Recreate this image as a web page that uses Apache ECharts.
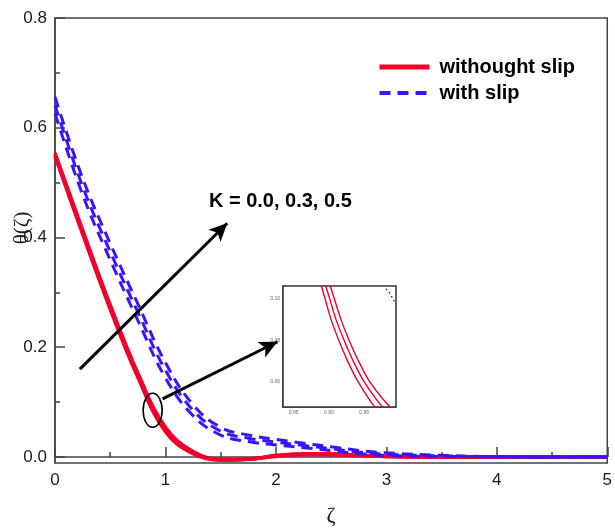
<!DOCTYPE html>
<html>
<head>
<meta charset="utf-8">
<script src="https://cdn.jsdelivr.net/npm/echarts@6/dist/echarts.min.js"></script>
<style>
html, body { margin: 0; padding: 0; background: #fff; }
#chart { width: 615px; height: 532px; }
</style>
</head>
<body>
<div id="chart"></div>
<script>
// ===== data =====
var zeta = [0, 0.25, 0.5, 0.75, 1, 1.25, 1.5, 1.75, 2, 2.25, 2.5, 2.75, 3, 3.5, 4, 4.5, 5];

// without slip, K = 0.0 / 0.3 / 0.5 (nearly on top of each other)
var noSlipK0 = [0.554, 0.414, 0.277, 0.153, 0.054, 0.010, -0.004, -0.004, 0.003, 0.006, 0.006, 0.0035, 0.0012, 0, 0, 0, 0];
var noSlipK3 = [0.551, 0.410, 0.273, 0.149, 0.050, 0.008, -0.005, -0.004, 0.002, 0.005, 0.005, 0.003, 0.001, 0, 0, 0, 0];
var noSlipK5 = [0.548, 0.406, 0.269, 0.145, 0.046, 0.006, -0.006, -0.004, 0.001, 0.004, 0.004, 0.0025, 0.0008, 0, 0, 0, 0];

// with slip, K = 0.0 / 0.3 / 0.5
var slipK0 = [0.656, 0.508, 0.389, 0.279, 0.172, 0.095, 0.054, 0.040, 0.032, 0.025, 0.0185, 0.012, 0.0075, 0.003, 0.0005, 0, 0];
var slipK3 = [0.641, 0.493, 0.374, 0.264, 0.158, 0.085, 0.047, 0.034, 0.027, 0.021, 0.015, 0.009, 0.005, 0.002, 0.0005, 0, 0];
var slipK5 = [0.626, 0.478, 0.359, 0.249, 0.144, 0.075, 0.040, 0.028, 0.022, 0.017, 0.0115, 0.006, 0.0025, 0.001, 0.0005, 0, 0];

var yMajor = [0, 0.2, 0.4, 0.6, 0.8];
var yMinor = [0.1, 0.3, 0.5, 0.7];

// inset (zoom of the circled part)
var insetY = [0.11, 0.10, 0.09, 0.08, 0.07, 0.06, 0.05, 0.045];
var insetXK0 = [0.886, 0.8945, 0.903, 0.914, 0.9265, 0.9415, 0.9605, 0.973];
var insetXK3 = [0.892, 0.901, 0.910, 0.9215, 0.9345, 0.950, 0.971, 0.985];
var insetXK5 = [0.898, 0.9075, 0.917, 0.9285, 0.942, 0.958, 0.981, 0.997];
var insetSlipX = [0.981, 0.987, 0.990, 0.994];
var insetSlipY = [0.1046, 0.1022, 0.100, 0.0978];
var insetXLabels = [0.85, 0.90, 0.95];
var insetXTicks = [0.85, 0.875, 0.90, 0.925, 0.95, 0.975];
var insetYLabels = [0.06, 0.08, 0.10];
var insetYTicks = [0.05, 0.06, 0.07, 0.08, 0.09, 0.10];

// annotations (data coordinates)
var arrowK = [[0.225, 0.16], [1.559, 0.426]];
var arrowInset = [[0.974, 0.106], [2.014, 0.21]];
var ellipseAt = [0.884, 0.085];
var kLabelAt = [2.04, 0.466];
var kLabel = 'K = 0.0, 0.3, 0.5';

var RED = '#f2002c';
var BLUE = '#3b14ff';
var AXIS = '#444';
var FONT = '"Liberation Sans", Arial, sans-serif';

function pairs(xs, ys) {
    return xs.map(function (x, i) { return [x, ys[i]]; });
}

function redLine(arr) {
    return {
        name: 'withought slip',
        type: 'line',
        xAxisIndex: 0,
        yAxisIndex: 0,
        data: pairs(zeta, arr),
        smooth: 0.4,
        showSymbol: false,
        symbol: 'none',
        lineStyle: { color: RED, width: 3.5 },
        itemStyle: { color: RED },
        z: 2
    };
}

function blueLine(arr) {
    return {
        name: 'with slip',
        type: 'line',
        xAxisIndex: 0,
        yAxisIndex: 0,
        data: pairs(zeta, arr),
        smooth: 0.4,
        showSymbol: false,
        symbol: 'none',
        lineStyle: { color: BLUE, width: 3, type: [11, 7] },
        itemStyle: { color: BLUE },
        z: 3
    };
}

function insetLine(xs) {
    return {
        name: 'inset',
        type: 'line',
        xAxisIndex: 1,
        yAxisIndex: 2,
        data: pairs(xs, insetY),
        smooth: 0.3,
        showSymbol: false,
        symbol: 'none',
        lineStyle: { color: RED, width: 1.4 },
        z: 6
    };
}

var series = [
    redLine(noSlipK0), redLine(noSlipK3), redLine(noSlipK5),
    blueLine(slipK0), blueLine(slipK3), blueLine(slipK5),
    insetLine(insetXK0), insetLine(insetXK3), insetLine(insetXK5),
    {
        name: 'inset slip',
        type: 'line',
        xAxisIndex: 1,
        yAxisIndex: 2,
        data: pairs(insetSlipX, insetSlipY),
        showSymbol: false,
        symbol: 'none',
        lineStyle: { color: BLUE, width: 1.5, type: [1.5, 3] },
        z: 6
    }
];

// arrows
series[5].markLine = {
    silent: true,
    animation: false,
    symbol: ['none', 'arrow'],
    symbolSize: [13, 18],
    lineStyle: { color: '#000', width: 3, type: 'solid' },
    label: { show: false },
    data: [
        [{ coord: arrowK[0] }, { coord: arrowK[1] }],
        [{ coord: arrowInset[0] }, { coord: arrowInset[1] }]
    ]
};

var insetLabelStyle = { fontSize: 5, color: '#666', margin: 3, fontFamily: FONT };

var chart = echarts.init(document.getElementById('chart'));
chart.setOption({
    animation: false,
    backgroundColor: '#fff',
    textStyle: { fontFamily: FONT },
    grid: [
        { left: 55, right: 4, top: 18, bottom: 62, show: true, borderColor: AXIS, borderWidth: 1.5 },
        { left: 283, top: 286, width: 113, height: 121, show: true, borderColor: '#333', borderWidth: 1.5, backgroundColor: '#fff', z: 5 }
    ],
    legend: {
        orient: 'vertical',
        left: 377,
        top: 57,
        padding: 0,
        itemWidth: 50,
        itemHeight: 14,
        itemGap: 6,
        itemStyle: { opacity: 0 },
        textStyle: { fontSize: 20, fontWeight: 'bold', color: '#000', fontFamily: FONT, padding: [0, 0, 0, 5] },
        data: [
            { name: 'withought slip', lineStyle: { width: 5 }, itemStyle: { opacity: 0 } },
            { name: 'with slip', lineStyle: { width: 4 }, itemStyle: { opacity: 0 } }
        ]
    },
    xAxis: [
        {
            type: 'value',
            gridIndex: 0,
            min: 0,
            max: 5,
            interval: 1,
            name: 'ζ',
            nameLocation: 'middle',
            nameGap: 42,
            nameTextStyle: { fontSize: 22, fontFamily: '"Liberation Serif", serif', color: '#1a1a1a' },
            axisLine: { lineStyle: { color: AXIS, width: 1.5 } },
            axisTick: { inside: true, length: 10, lineStyle: { color: AXIS, width: 1.5 } },
            minorTick: { show: true, splitNumber: 2, length: 5, lineStyle: { color: AXIS, width: 1.5 } },
            axisLabel: { fontSize: 17, color: '#1a1a1a', margin: 9 },
            splitLine: { show: false }
        },
        {
            type: 'value',
            gridIndex: 1,
            min: 0.835,
            max: 0.995,
            axisLine: { lineStyle: { color: '#333', width: 1.5 } },
            axisTick: { inside: true, length: 3, customValues: insetXTicks, lineStyle: { color: '#333' } },
            axisLabel: Object.assign({ customValues: insetXLabels, formatter: function (v) { return v.toFixed(2); } }, insetLabelStyle),
            splitLine: { show: false }
        }
    ],
    yAxis: [
        {
            type: 'value',
            gridIndex: 0,
            min: -0.011,
            max: 0.8,
            axisLine: { show: true, lineStyle: { color: AXIS, width: 1.5 } },
            axisTick: { inside: true, length: 10, customValues: yMajor, lineStyle: { color: AXIS, width: 1.5 } },
            axisLabel: {
                customValues: yMajor,
                formatter: function (v) { return v.toFixed(1); },
                fontSize: 17,
                color: '#1a1a1a',
                margin: 8
            },
            splitLine: { show: false }
        },
        {
            // minor ticks only
            type: 'value',
            gridIndex: 0,
            position: 'left',
            min: -0.011,
            max: 0.8,
            axisLine: { show: false },
            axisTick: { inside: true, length: 5, customValues: yMinor, lineStyle: { color: AXIS, width: 1.5 } },
            axisLabel: { show: false },
            splitLine: { show: false }
        },
        {
            type: 'value',
            gridIndex: 1,
            min: 0.048,
            max: 0.106,
            axisLine: { show: true, lineStyle: { color: '#333', width: 1.5 } },
            axisTick: { inside: true, length: 3, customValues: insetYTicks, lineStyle: { color: '#333' } },
            axisLabel: Object.assign({ customValues: insetYLabels, formatter: function (v) { return v.toFixed(2); } }, insetLabelStyle),
            splitLine: { show: false }
        }
    ],
    series: series
});

// ===== annotations placed through the axes =====
var ePos = chart.convertToPixel({ gridIndex: 0 }, ellipseAt);
var kPos = chart.convertToPixel({ gridIndex: 0 }, kLabelAt);
chart.setOption({
    graphic: [
        {
            type: 'ellipse',
            shape: { cx: ePos[0], cy: ePos[1], rx: 9.5, ry: 17 },
            style: { fill: 'none', stroke: '#000', lineWidth: 1.6 },
            z: 10
        },
        {
            type: 'text',
            x: kPos[0],
            y: kPos[1],
            style: {
                text: kLabel,
                fontSize: 20,
                fontWeight: 'bold',
                fontFamily: FONT,
                fill: '#000',
                textAlign: 'center',
                textVerticalAlign: 'middle'
            },
            z: 10
        },
        {
            type: 'text',
            x: 22,
            y: 228,
            rotation: Math.PI / 2,
            style: {
                text: 'θ(ζ)',
                fontSize: 21,
                fontFamily: '"Liberation Serif", serif',
                fill: '#1a1a1a',
                textAlign: 'center',
                textVerticalAlign: 'middle'
            },
            z: 10
        }
    ]
});
</script>
</body>
</html>
